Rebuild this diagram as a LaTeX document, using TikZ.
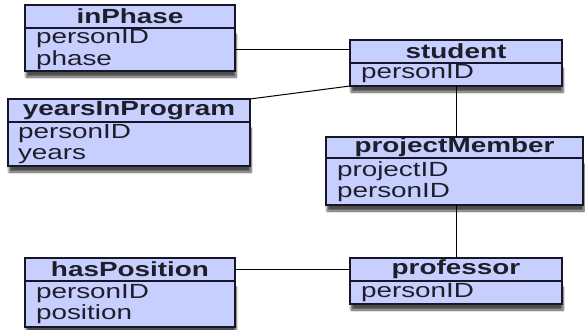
\documentclass[tikz,border=0pt]{standalone}
\usepackage{fontspec}
\setmainfont[FakeStretch=1.36]{Liberation Sans}
\usetikzlibrary{shadows.blur}

\definecolor{boxblue}{RGB}{199,207,255}
\definecolor{boxline}{RGB}{22,22,40}
\definecolor{boxtext}{RGB}{30,30,42}

\begin{document}
\begin{tikzpicture}[x=1pt,y=-1pt,
  every node/.style={outer sep=0pt, inner sep=0pt, anchor=north west, draw=boxline, line width=1.6pt, fill=boxblue, text=boxtext},
  tabhead/.style={font=\fontsize{20.5}{22}\selectfont\bfseries, align=center, minimum height=23pt},
  tabbody/.style={font=\fontsize{20.5}{21.5}\selectfont, align=left, inner xsep=11pt,
    blur shadow={shadow xshift=1pt, shadow yshift=-6pt, shadow blur steps=8, shadow opacity=70}},
  link/.style={draw=black, line width=1pt}]
\useasboundingbox (0,0) rectangle (585,329);

% tables on the left
\node[tabbody, text width=188pt, minimum height=43pt] (inPhaseAttr) at (25,28) {personID\\phase};
\node[tabhead, minimum width=210pt] (inPhase) at (25,5) {inPhase};
\node[tabbody, text width=222pt, minimum height=44pt, inner xsep=10pt] (yearsAttr) at (8,122) {personID\\years};
\node[tabhead, minimum width=242pt] (years) at (8,99) {yearsInProgram};
\node[tabbody, text width=188pt, minimum height=46pt] (hasPositionAttr) at (25,281) {personID\\position};
\node[tabhead, minimum width=210pt] (hasPosition) at (25,258) {hasPosition};

% tables on the right
\node[tabbody, text width=190pt, minimum height=24pt] (studentAttr) at (350,62) {personID};
\node[tabhead, minimum width=212pt] (student) at (350,40) {student};
\node[tabbody, text width=235pt, minimum height=47pt] (memberAttr) at (326,158) {projectID\\personID};
\node[tabhead, minimum width=257pt, minimum height=21pt] (member) at (326,137) {projectMember};
\node[tabbody, text width=190pt, minimum height=23pt] (professorAttr) at (350,281) {personID};
\node[tabhead, minimum width=212pt] (professor) at (350,258) {professor};

% links
\draw[link] (inPhaseAttr.east) -- (inPhaseAttr.east -| student.west);
\draw[link] (years.north east) -- (studentAttr.south west);
\draw[link] (studentAttr.south) -- (studentAttr.south |- member.north);
\draw[link] (professor.north |- memberAttr.south) -- (professor.north);
\draw[link] (hasPosition.east) -- (professor.west);
\end{tikzpicture}
\end{document}
